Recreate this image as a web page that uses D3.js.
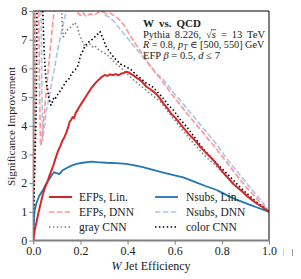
<!DOCTYPE html>
<html><head><meta charset="utf-8">
<script src="https://cdn.jsdelivr.net/npm/d3@7"></script>
<style>body{margin:0;background:#fff}svg{display:block}text{font-family:"Liberation Serif","DejaVu Serif",serif;fill:#222}</style>
</head><body><svg id="c" width="301" height="279"></svg>
<script>
const xTicks=[0,0.2,0.4,0.6,0.8,1.0];
const yTicks=[0,1,2,3,4,5,6,7,8];
const seriesNames=["EFPs, Lin.","EFPs, DNN","gray CNN","Nsubs, Lin.","Nsubs, DNN","color CNN"];
const efpsLin=[[0,0],[0.004,0.25],[0.008,0.45],[0.013,0.62],[0.02,0.9],[0.03,1.25],[0.041,1.62],[0.05,1.85],[0.06,2.05],[0.068,2.25],[0.076,2.42],[0.085,2.62],[0.095,2.88],[0.105,3.12],[0.115,3.3],[0.125,3.5],[0.133,3.62],[0.14,3.76],[0.148,3.95],[0.155,4.15],[0.16,4.2],[0.167,4.3],[0.173,4.27],[0.18,4.45],[0.19,4.58],[0.2,4.72],[0.21,4.85],[0.218,4.95],[0.232,5.13],[0.245,5.3],[0.255,5.4],[0.267,5.52],[0.28,5.62],[0.29,5.7],[0.303,5.77],[0.315,5.74],[0.325,5.79],[0.338,5.77],[0.35,5.8],[0.36,5.76],[0.373,5.82],[0.385,5.84],[0.395,5.88],[0.405,5.86],[0.415,5.8],[0.423,5.77],[0.44,5.66],[0.452,5.6],[0.465,5.5],[0.48,5.36],[0.495,5.28],[0.508,5.2],[0.52,5.12],[0.535,4.98],[0.552,4.78],[0.57,4.6],[0.585,4.42],[0.6,4.3],[0.622,4.08],[0.64,3.9],[0.66,3.7],[0.675,3.58],[0.693,3.42],[0.71,3.25],[0.73,3.08],[0.75,2.92],[0.764,2.8],[0.785,2.58],[0.8,2.42],[0.82,2.24],[0.835,2.1],[0.85,1.96],[0.87,1.82],[0.89,1.68],[0.905,1.56],[0.93,1.4],[0.95,1.28],[0.975,1.15],[1.0,1.0]];
const nsubsLin=[[0,0],[0.001,0.4],[0.003,0.8],[0.006,1.06],[0.013,1.3],[0.025,1.55],[0.041,1.76],[0.055,1.98],[0.07,2.17],[0.08,2.3],[0.088,2.38],[0.095,2.36],[0.1,2.35],[0.108,2.31],[0.115,2.36],[0.125,2.45],[0.14,2.52],[0.16,2.6],[0.183,2.67],[0.21,2.71],[0.246,2.75],[0.27,2.73],[0.31,2.71],[0.35,2.7],[0.395,2.67],[0.43,2.62],[0.465,2.56],[0.5,2.48],[0.552,2.37],[0.6,2.27],[0.636,2.2],[0.693,2.02],[0.73,1.9],[0.778,1.76],[0.8,1.67],[0.835,1.52],[0.87,1.4],[0.92,1.24],[0.95,1.15],[1.0,1.0]];
const colorCNN=[[0,0],[0.002,1.0],[0.005,2.2],[0.009,3.4],[0.012,4.4],[0.014,6],[0.016,8.6],[0.038,8.6],[0.042,7.6],[0.046,6.6],[0.05,6.0],[0.055,5.5],[0.06,5.3],[0.065,5.0],[0.07,4.85],[0.075,4.72],[0.08,4.8],[0.085,4.95],[0.09,4.9],[0.1,5.05],[0.113,5.2],[0.125,5.35],[0.14,5.55],[0.15,5.62],[0.165,5.85],[0.178,5.95],[0.19,6.1],[0.2,6.45],[0.207,6.55],[0.215,6.7],[0.23,6.9],[0.242,6.95],[0.255,7.05],[0.268,7.15],[0.283,7.28],[0.29,7.15],[0.3,6.95],[0.31,6.75],[0.33,6.5],[0.352,6.29],[0.37,6.15],[0.395,6.05],[0.415,5.95],[0.437,5.77],[0.46,5.62],[0.48,5.48],[0.5,5.4],[0.52,5.24],[0.552,4.95],[0.57,4.75],[0.594,4.55],[0.62,4.25],[0.65,3.97],[0.67,3.75],[0.693,3.5],[0.72,3.2],[0.74,3.02],[0.764,2.8],[0.8,2.5],[0.835,2.22],[0.87,1.92],[0.905,1.64],[0.95,1.32],[1.0,1.0]];
const grayCNN=[[0,0],[0.002,1.5],[0.004,3.5],[0.006,8.6],[0.118,8.6],[0.122,7.6],[0.127,7.1],[0.135,7.2],[0.145,7.35],[0.16,7.45],[0.175,7.6],[0.185,7.5],[0.195,7.2],[0.21,6.9],[0.22,6.75],[0.23,6.8],[0.24,6.85],[0.25,6.75],[0.26,6.8],[0.27,6.7],[0.285,6.6],[0.3,6.55],[0.324,6.4],[0.345,6.2],[0.367,6.05],[0.39,5.88],[0.409,5.72],[0.43,5.56],[0.451,5.42],[0.47,5.3],[0.494,5.13],[0.515,5.0],[0.536,4.86],[0.552,4.7],[0.58,4.4],[0.6,4.2],[0.622,3.97],[0.65,3.68],[0.67,3.48],[0.693,3.27],[0.72,3.02],[0.74,2.86],[0.764,2.69],[0.8,2.4],[0.835,2.1],[0.87,1.82],[0.905,1.56],[0.95,1.28],[1.0,1.0]];
const efpsDNN=[[0,0],[0.002,1.2],[0.004,2.6],[0.005,3.4],[0.007,8.6],[0.022,8.6],[0.027,5],[0.031,3.3],[0.036,3.5],[0.045,4.3],[0.055,5.2],[0.065,6.1],[0.075,6.9],[0.084,7.7],[0.092,8.2],[0.1,8.6],[0.18,8.6],[0.19,7.92],[0.2,7.85],[0.21,7.95],[0.225,7.8],[0.24,7.9],[0.26,7.86],[0.275,7.95],[0.296,7.97],[0.31,7.9],[0.325,7.93],[0.338,7.86],[0.35,7.8],[0.367,7.68],[0.39,7.45],[0.41,7.15],[0.43,6.9],[0.451,6.65],[0.466,6.45],[0.48,6.28],[0.5,6.05],[0.52,5.82],[0.536,5.68],[0.552,5.5],[0.58,5.18],[0.6,4.97],[0.622,4.75],[0.65,4.45],[0.67,4.25],[0.693,4.03],[0.72,3.76],[0.74,3.55],[0.764,3.33],[0.8,2.95],[0.835,2.57],[0.87,2.2],[0.905,1.85],[0.95,1.44],[1.0,1.0]];
const nsubsDNN=[[0,0],[0.002,1.0],[0.005,2.5],[0.008,8.6],[0.032,8.6],[0.037,5],[0.04,3.5],[0.048,4.0],[0.055,4.5],[0.065,4.9],[0.08,5.6],[0.09,6.0],[0.1,6.5],[0.11,6.9],[0.12,7.3],[0.13,7.65],[0.14,8.0],[0.15,8.6],[0.28,8.6],[0.29,8.0],[0.305,7.85],[0.324,7.78],[0.34,7.65],[0.36,7.45],[0.38,7.25],[0.41,6.95],[0.44,6.65],[0.465,6.4],[0.5,6.05],[0.52,5.85],[0.552,5.6],[0.58,5.32],[0.6,5.1],[0.622,4.9],[0.65,4.62],[0.67,4.42],[0.693,4.2],[0.72,3.92],[0.74,3.72],[0.764,3.5],[0.8,3.1],[0.835,2.7],[0.87,2.35],[0.905,2.0],[0.95,1.55],[0.976,1.3],[1.0,1.0]];

const svg=d3.select("#c");
const x=d3.scaleLinear().domain([0,1]).range([33.3,269]);
const y=d3.scaleLinear().domain([0,8]).range([240.5,11]);

svg.append("clipPath").attr("id","clip").append("rect")
  .attr("x",x(0)).attr("y",y(8)).attr("width",x(1)-x(0)).attr("height",y(0)-y(8));

const styles={
  "EFPs, Lin.":{data:efpsLin,color:"#d62728",dash:null,w:2},
  "EFPs, DNN":{data:efpsDNN,color:"#ff9896",dash:"5.5,2.4",w:1.7},
  "gray CNN":{data:grayCNN,color:"#7f7f7f",dash:"1.5,2.4",w:1.6},
  "Nsubs, Lin.":{data:nsubsLin,color:"#1f77b4",dash:null,w:1.8},
  "Nsubs, DNN":{data:nsubsDNN,color:"#aec7e8",dash:"5.5,2.4",w:1.7},
  "color CNN":{data:colorCNN,color:"#000000",dash:"1.5,2.4",w:1.6}
};
const drawOrder=["Nsubs, DNN","EFPs, DNN","gray CNN","color CNN","Nsubs, Lin.","EFPs, Lin."];
const line=d3.line().x(d=>x(d[0])).y(d=>y(d[1]));
const g=svg.append("g").attr("clip-path","url(#clip)");
drawOrder.forEach(n=>{
  const s=styles[n];
  g.append("path").datum(s.data).attr("d",line).attr("fill","none")
   .attr("stroke",s.color).attr("stroke-width",s.w)
   .attr("stroke-dasharray",s.dash).attr("stroke-linejoin","round");
});

// frame
svg.append("line").attr("x1",x(0)).attr("x2",x(1)).attr("y1",y(8)).attr("y2",y(8)).attr("stroke","#000").attr("stroke-width",1);
svg.append("line").attr("x1",x(1)).attr("x2",x(1)).attr("y1",y(8)).attr("y2",y(0)).attr("stroke","#000").attr("stroke-width",1);
svg.append("line").attr("x1",x(0)).attr("x2",x(1)).attr("y1",y(0)).attr("y2",y(0)).attr("stroke","#808080").attr("stroke-width",2);
svg.append("line").attr("x1",x(0)).attr("x2",x(0)).attr("y1",y(8)).attr("y2",y(0)).attr("stroke","#808080").attr("stroke-width",1.5).attr("opacity",0.8);

// axes
const xAxis=d3.axisBottom(x).tickValues(xTicks).tickFormat(d3.format(".1f")).tickSize(4).tickPadding(2);
const gx=svg.append("g").attr("transform",`translate(0,${y(0)})`).call(xAxis);
gx.select(".domain").remove();
gx.selectAll("line").attr("stroke","#808080");
gx.selectAll("text").attr("font-size",12).attr("font-family","Liberation Serif").attr("fill","#333");
const yAxis=d3.axisLeft(y).tickValues(yTicks).tickFormat(d3.format("d")).tickSize(4).tickPadding(2);
const gy=svg.append("g").attr("transform",`translate(${x(0)},0)`).call(yAxis);
gy.select(".domain").remove();
gy.selectAll("line").attr("stroke","#808080");
gy.selectAll("text").attr("font-size",12).attr("font-family","Liberation Serif").attr("fill","#333");

// axis labels
const xl=svg.append("text").attr("x",151).attr("y",270).attr("text-anchor","middle").attr("font-size",12);
xl.append("tspan").attr("font-style","italic").text("W");
xl.append("tspan").text(" Jet Efficiency");
svg.append("text").attr("transform","translate(15,126.5) rotate(-90)").attr("text-anchor","middle").attr("font-size",11.2).text("Significance Improvement");

// annotation: fit widths by widening the (math) spaces
function fit(t,target,nSpaces){
  const w=t.node().getComputedTextLength();
  if(w<target&&nSpaces>0) t.style("word-spacing",((target-w)/nSpaces)+"px");
  else if(w>target){const fs=+t.attr("font-size");t.attr("font-size",fs*target/w);}
}
const ax=143;
const t1=svg.append("text").attr("x",ax).attr("y",27).attr("font-size",11).attr("font-weight","bold");
t1.append("tspan").text("W vs. QCD");
fit(t1,58,2);
const t2=svg.append("text").attr("x",ax).attr("y",37.5).attr("font-size",10.5);
t2.append("tspan").text("Pythia 8.226, √");
t2.append("tspan").attr("font-style","italic").text("s");
t2.append("tspan").text(" = 13 TeV");
fit(t2,122,5);
const t3=svg.append("text").attr("x",ax).attr("y",48).attr("font-size",10.5);
t3.append("tspan").attr("font-style","italic").text("R");
t3.append("tspan").text(" = 0.8, ");
t3.append("tspan").attr("font-style","italic").text("p");
t3.append("tspan").attr("font-style","italic").attr("font-size",7.5).attr("dy",2).attr("dx",0.3).text("T");
t3.append("tspan").attr("dy",-2).text(" ∈ [500, 550] GeV");
fit(t3,121,7);
const t4=svg.append("text").attr("x",ax).attr("y",58.5).attr("font-size",10.5);
t4.append("tspan").text("EFP ");
t4.append("tspan").attr("font-style","italic").text("β");
t4.append("tspan").text(" = 0.5, ");
t4.append("tspan").attr("font-style","italic").text("d");
t4.append("tspan").text(" ≤ 7");
fit(t4,77,6);
// overline for sqrt
try{
  const node=t2.node();
  const idx="Pythia 8.226, √".length;
  const e1=node.getExtentOfChar(idx-1), e2=node.getExtentOfChar(idx);
  svg.append("line").attr("x1",e1.x+e1.width-0.8).attr("x2",e2.x+e2.width+0.3)
    .attr("y1",e1.y+1.2).attr("y2",e1.y+1.2).attr("stroke","#222").attr("stroke-width",0.7);
}catch(e){}

// legend
const legendCols=[[49,79],[155,186]];
const rowsY=[197,212,227];
seriesNames.forEach((n,i)=>{
  const s=styles[n];
  const c=legendCols[Math.floor(i/3)], ry=rowsY[i%3];
  svg.append("line").attr("x1",c[0]).attr("x2",c[0]+23).attr("y1",ry).attr("y2",ry)
    .attr("stroke",s.color).attr("stroke-width",s.w).attr("stroke-dasharray",s.dash);
  svg.append("text").attr("x",c[1]).attr("y",ry+4).attr("font-size",11.5).text(n);
});

// stray marks at right edge
svg.append("rect").attr("x",283).attr("y",249).attr("width",1).attr("height",7).attr("fill","#d0d0d0");
svg.append("rect").attr("x",292).attr("y",249).attr("width",1).attr("height",7).attr("fill","#999");
</script></body></html>
